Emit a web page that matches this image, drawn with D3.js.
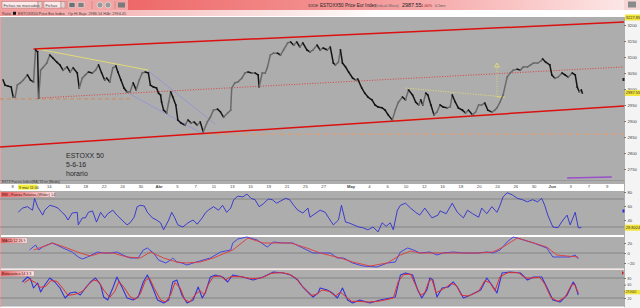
<!DOCTYPE html>
<html>
<head>
<meta charset="utf-8">
<script src="https://cdn.jsdelivr.net/npm/d3@7"></script>
<style>
  body { margin: 0; background: #fff; }
  text { font-family: "Liberation Sans", Arial, sans-serif; }
</style>
</head>
<body>
<script>
// hourly bars counted from the Mar 8 open, 9 bars per trading day
const barsPerDay = 9;

// [bar, close]
const price = [
  [-9,3028],[-7,3012],[-4,3009],[-1,3006],[1,2975],[3,2975],[5,3012],[8,3019],[11,3028],[15,3044],
  [18,3028],[21,3022],[23,3122],[25,3116],[26,2972],[28,3059],[30,3066],[34,3081],[37,3106],[40,3097],
  [44,3084],[47,3075],[50,3059],[54,3069],[57,3053],[60,3066],[64,3050],[66,3003],[69,3034],[72,3044],
  [75,3053],[79,3050],[82,3059],[85,3075],[88,3050],[91,3028],[93,3034],[96,3022],[99,3066],[102,3072],
  [104,3053],[107,3028],[110,3003],[113,2991],[116,2991],[119,3019],[122,2997],[125,3028],[128,3050],[131,3053],
  [134,3050],[136,3012],[139,3006],[142,3003],[144,2987],[146,2981],[147,2959],[149,2934],[152,2925],[154,2959],
  [156,2991],[158,2975],[161,2950],[163,2903],[166,2894],[170,2887],[173,2903],[176,2894],[179,2897],[182,2887],
  [185,2897],[188,2866],[192,2897],[195,2912],[198,2934],[202,2937],[205,2928],[208,2912],[212,2925],[215,2934],
  [216,3003],[219,3019],[222,3022],[226,3034],[229,3050],[232,3053],[236,3050],[239,3050],[242,3044],[243,3006],
  [246,3050],[249,3050],[251,3066],[254,3106],[257,3112],[261,3112],[264,3106],[267,3122],[271,3144],[274,3147],
  [277,3137],[280,3147],[283,3131],[286,3144],[290,3122],[293,3116],[296,3122],[300,3137],[303,3122],[306,3128],
  [310,3122],[313,3131],[316,3081],[318,3075],[321,3084],[323,3122],[325,3081],[328,3069],[331,3053],[335,3034],
  [338,3028],[340,3031],[344,3003],[347,2987],[350,2975],[354,2966],[357,2950],[360,2944],[364,2941],[367,2934],
  [370,2919],[374,2903],[377,2934],[380,2959],[384,2975],[387,2966],[390,2997],[394,2981],[397,2959],[400,2950],
  [402,2966],[404,2950],[407,2987],[409,2981],[412,2950],[415,2919],[418,2928],[421,2950],[424,2944],[428,2941],
  [431,2944],[433,2981],[436,2959],[439,2941],[443,2934],[446,2925],[449,2934],[453,2919],[456,2928],[459,2950],
  [462,2950],[465,2956],[468,2934],[472,2928],[475,2934],[477,2941],[480,2959],[483,2981],[487,3037],[490,3050],
  [493,3059],[497,3062],[500,3059],[503,3069],[507,3069],[510,3075],[513,3081],[517,3081],[520,3087],[522,3094],
  [525,3084],[529,3075],[531,3044],[534,3034],[537,3037],[541,3050],[544,3044],[547,3037],[551,3050],[554,3044],
  [556,3006],[558,2991],[560,2997],[561,2987.55]
];

// RSI (14)
const rsi = [
  [6,51],[10,57],[15,59],[20,54],[22,71],[25,59],[30,47],[32,54],[37,61],[42,59],[45,57],[49,51],[52,47],
  [55,40],[59,50],[64,51],[65,33],[69,43],[72,43],[75,51],[79,53],[83,37],[87,51],[91,43],[94,49],[99,54],
  [103,47],[108,40],[113,33],[116,36],[120,44],[123,59],[126,61],[130,60],[133,51],[138,43],[142,40],[146,36],
  [149,26],[154,40],[157,51],[160,43],[163,33],[168,30],[173,36],[178,40],[182,34],[187,43],[190,50],[193,54],
  [198,59],[203,54],[207,61],[211,51],[215,57],[218,69],[222,74],[227,73],[231,77],[235,71],[239,69],[243,59],
  [247,63],[252,70],[256,69],[260,64],[264,67],[269,71],[273,69],[277,61],[281,54],[286,50],[291,57],[293,44],
  [300,51],[303,54],[308,51],[311,44],[316,33],[321,40],[324,61],[328,37],[331,36],[336,33],[341,30],[345,29],
  [350,26],[355,30],[360,23],[364,36],[368,31],[372,36],[375,26],[379,54],[382,61],[387,64],[392,57],[397,51],
  [401,47],[406,57],[413,43],[419,47],[421,53],[427,49],[433,64],[438,51],[444,43],[448,54],[453,49],[459,44],
  [462,57],[467,49],[472,59],[477,51],[480,61],[483,73],[487,79],[492,76],[497,71],[502,69],[507,66],[512,69],
  [517,66],[521,71],[524,61],[527,47],[532,30],[537,29],[542,40],[546,47],[549,33],[554,51],[557,29],[560,29]
];

// MACD (12 26 9)
const macd = [
  [17,6],[23,16],[26,6],[30,12],[39,20],[44,16],[50,10],[59,2],[65,-8],[69,-12],[74,-8],[84,2],[90,0],[96,0],
  [103,2],[109,-4],[116,-10],[124,-10],[129,6],[133,10],[139,0],[144,-14],[151,-20],[156,-14],[158,-10],[162,-18],
  [167,-20],[172,-24],[178,-20],[188,-14],[195,-10],[205,2],[215,6],[217,20],[222,28],[231,32],[241,26],[251,12],
  [257,22],[267,20],[276,20],[286,10],[296,0],[303,0],[313,0],[320,-10],[326,-10],[335,-20],[345,-26],[359,-28],
  [369,-20],[377,-18],[382,2],[389,10],[395,6],[401,0],[411,2],[418,-4],[424,0],[434,2],[444,0],[458,0],[467,2],
  [473,0],[480,6],[487,22],[493,32],[500,28],[513,20],[526,10],[532,-8],[539,-8],[549,-8],[554,-4],[557,-12]
];
const macdSignal = [
  [21,6],[40,20],[54,10],[67,0],[77,-6],[87,0],[99,0],[113,-8],[126,-10],[136,2],[149,-10],[162,-18],[172,-20],
  [185,-18],[198,-10],[212,2],[217,6],[232,30],[247,20],[261,20],[274,20],[290,10],[303,0],[323,-10],[335,-18],
  [352,-26],[369,-20],[382,-4],[392,4],[401,0],[414,0],[434,0],[458,0],[473,2],[483,12],[497,30],[507,24],
  [526,12],[536,-4],[546,-6],[557,-8]
];

// Estocastico (14 3 3)
const stochK = [
  [10,68],[15,83],[18,77],[21,50],[25,65],[28,38],[32,59],[37,80],[42,68],[47,50],[52,20],[57,35],[62,38],[67,29],
  [72,50],[77,68],[82,80],[87,59],[90,23],[94,14],[99,50],[103,83],[108,53],[113,20],[119,14],[124,23],[129,68],
  [133,89],[138,53],[143,14],[149,5],[154,14],[158,68],[162,74],[167,29],[172,5],[178,14],[183,53],[187,20],
  [190,35],[195,83],[200,89],[207,83],[212,68],[217,89],[227,83],[237,74],[247,83],[257,98],[267,95],[274,89],
  [281,74],[286,53],[291,38],[296,23],[301,35],[303,50],[310,44],[315,35],[320,20],[325,50],[330,14],[335,5],
  [342,14],[352,5],[362,14],[372,20],[377,23],[382,89],[387,95],[394,89],[399,44],[403,20],[408,44],[411,80],
  [414,74],[418,23],[423,50],[429,53],[434,68],[438,53],[444,20],[451,29],[461,44],[467,80],[472,59],[477,35],
  [482,95],[490,98],[500,95],[507,74],[513,83],[521,83],[526,53],[532,14],[539,8],[546,29],[552,68],[554,59],[557,29]
];
const stochD = [
  [12,66],[17,76],[23,66],[28,52],[33,55],[38,72],[44,70],[50,48],[55,28],[60,30],[65,34],[70,42],[75,60],[80,74],
  [85,70],[90,44],[96,22],[101,40],[105,70],[110,52],[116,24],[121,16],[126,32],[131,72],[135,80],[140,48],[146,14],
  [151,8],[156,30],[160,66],[165,52],[170,14],[175,8],[180,30],[185,42],[189,30],[193,60],[198,84],[205,86],
  [210,74],[215,84],[225,84],[235,78],[245,80],[255,94],[265,96],[272,92],[279,80],[284,60],[289,44],[294,28],
  [299,30],[305,44],[312,40],[318,26],[323,38],[328,24],[334,10],[340,10],[350,8],[360,10],[370,16],[375,20],
  [380,70],[385,90],[392,92],[397,58],[402,28],[406,36],[410,70],[413,76],[417,36],[421,42],[427,52],[432,64],
  [437,58],[442,28],[449,26],[459,40],[465,72],[470,66],[475,42],[480,84],[488,96],[498,96],[505,80],[511,80],
  [519,82],[524,62],[530,22],[537,10],[544,22],[550,58],[553,62],[557,36]
];

// date axis: [trading day, label]  (Mar 10 sits under the cursor tag)
const dateTicks = [
  [0,'8'],[4,'14'],[6,'16'],[8,'18'],[10,'22'],[12,'24'],[14,'30'],[16,'Abr'],[18,'5'],[20,'7'],
  [22,'11'],[24,'13'],[26,'15'],[28,'19'],[30,'21'],[32,'25'],[34,'27'],[37,'May'],[39,'4'],[41,'6'],[43,'10'],
  [45,'12'],[47,'16'],[49,'18'],[51,'20'],[53,'24'],[55,'26'],[57,'30'],[59,'Jun'],[61,'3'],[63,'7'],[65,'9']
];
const monthLabels = ['Abr', 'May', 'Jun'];
const priceTicks = [3200, 3150, 3100, 3050, 3000, 2950, 2900, 2850, 2800, 2750];
const rsiTicks = [80, 60, 40];
const macdTicks = [20, 0, -20];
const stochTicks = [80, 60, 40, 20];

// drawn studies: [[bar, price], [bar, price]]
const channelTop = [[21,3125],[602,3209]];
const channelBottom = [[-12,2819],[602,2947]];
const channelMid = [[27,2972],[602,3069]];
const supportOld = [[-12,2969],[116,2969]];
const supportLow = [[165,2859],[602,2859]];
const trendMarch = [[25,3125],[134,3059]];
const downUpper = [[134,3056],[200,2890]];
const downLower = [[116,2984],[188,2859]];
const flagTop = [[387,3003],[485,2975]];
const flagBottom = [[375,2903],[477,2922]];
const flagTarget = [[477,2975],[477,3081]];
const futureLine = [[546,2722],[590,2725]];

const lastPrice = '2987.55';

const width = 640;
const height = 308;
const plotRight = 624;

const svg = d3.select('body').append('svg')
  .attr('width', width)
  .attr('height', height);

const defs = svg.append('defs');
function grad(id, stops) {
  const g = defs.append('linearGradient').attr('id', id).attr('x1', 0).attr('x2', 1).attr('y1', 0).attr('y2', 0);
  stops.forEach(([o, c]) => g.append('stop').attr('offset', o).attr('stop-color', c));
}
grad('tb', [[0, '#ee6868'], [0.5, '#f49a9a'], [1, '#fde6e6']]);
grad('row2', [[0, '#f29c9c'], [0.6, '#ffffff'], [1, '#ffffff']]);
grad('lbl', [[0, '#ec5a5a'], [1, '#ffeeee']]);

const x = d3.scaleLinear().domain([-12, 602]).range([0, plotRight]);
const yP = d3.scaleLinear().domain([2750, 3200]).range([169, 25]);
const yR = d3.scaleLinear().domain([30, 70]).range([227, 199]);
const yM = d3.scaleLinear().domain([-20, 20]).range([263, 243]);
const yS = d3.scaleLinear().domain([20, 80]).range([298, 278]);

// --- toolbar rows
svg.append('rect').attr('x', 0).attr('y', 0).attr('width', 128).attr('height', 10).attr('fill', '#f3a4a4');
svg.append('rect').attr('x', 128).attr('y', 0).attr('width', 496).attr('height', 10).attr('fill', 'url(#tb)');
svg.append('rect').attr('x', 624).attr('y', 0).attr('width', 16).attr('height', 10).attr('fill', '#f7d6d6');
svg.append('rect').attr('x', 0).attr('y', 10).attr('width', 640).attr('height', 6).attr('fill', 'url(#row2)');

[[2, 36, 'Fichas no marcados'], [44, 17, 'Fichas']].forEach(([bx, bw, t]) => {
  svg.append('rect').attr('x', bx).attr('y', 1.5).attr('width', bw).attr('height', 6.5)
    .attr('fill', '#fbeaea').attr('stroke', '#b07070').attr('stroke-width', 0.5);
  svg.append('rect').attr('x', bx + bw).attr('y', 1.5).attr('width', 4).attr('height', 6.5)
    .attr('fill', '#e4d4d4').attr('stroke', '#b07070').attr('stroke-width', 0.5);
  svg.append('text').attr('x', bx + 1.5).attr('y', 6.5).attr('font-size', 4).attr('fill', '#444').text(t);
});
[67, 92, 115].forEach(sx => svg.append('line').attr('x1', sx).attr('x2', sx).attr('y1', 1).attr('y2', 9)
  .attr('stroke', '#c58080').attr('stroke-width', 0.6));
[[72, '#707070'], [81, '#808080']].forEach(([ix, c]) => svg.append('rect').attr('x', ix - 3).attr('y', 2.5)
  .attr('width', 6).attr('height', 5).attr('fill', c).attr('stroke', '#eee').attr('stroke-width', 0.5));
[100, 108].forEach(ix => svg.append('circle').attr('cx', ix).attr('cy', 5).attr('r', 3)
  .attr('fill', '#9a9a9a').attr('stroke', '#eee').attr('stroke-width', 0.6));
svg.append('rect').attr('x', 118).attr('y', 2.5).attr('width', 7).attr('height', 5).attr('fill', '#7a7a7a');
svg.append('rect').attr('x', 628).attr('y', 1.5).attr('width', 8).attr('height', 6).attr('fill', '#8a8a8a');

svg.append('text').attr('x', 308).attr('y', 6.5).attr('font-size', 4).attr('fill', '#333').text('SX5E');
svg.append('text').attr('x', 320).attr('y', 6.5).attr('font-size', 4.6).attr('fill', '#222').text('ESTOXX50 Price Eur Index');
svg.append('text').attr('x', 375).attr('y', 6.5).attr('font-size', 3.6).attr('fill', '#666').text('(Indicial Morat)');
svg.append('text').attr('x', 402).attr('y', 6.8).attr('font-size', 5.4).attr('fill', '#222').text(lastPrice);
svg.append('text').attr('x', 420).attr('y', 6.5).attr('font-size', 3.8).attr('fill', '#a02020').text('-1.00%');
svg.append('text').attr('x', 435).attr('y', 6.5).attr('font-size', 3.8).attr('fill', '#555').text('0.5ms');

svg.append('text').attr('x', 2).attr('y', 14.5).attr('font-size', 3.8).attr('fill', '#444').text('Ratio');
svg.append('rect').attr('x', 13).attr('y', 11.8).attr('width', 3).attr('height', 3).attr('fill', '#111');
svg.append('text').attr('x', 18).attr('y', 14.5).attr('font-size', 3.8).attr('fill', '#333').text('ESTOXX50 Price Eur Index');
svg.append('text').attr('x', 68).attr('y', 14.5).attr('font-size', 3.8).attr('fill', '#444').text('Op Hi Bajo: 2986.54 H4b: 2994.45');

// --- panels
const panels = [[17, 184], [191, 235], [237, 268.5], [270, 306.5]];
panels.forEach(([t, b]) => svg.append('rect').attr('x', 0).attr('y', t).attr('width', plotRight)
  .attr('height', b - t).attr('fill', '#adadad'));
svg.append('rect').attr('x', plotRight).attr('y', 17).attr('width', 16).attr('height', 291).attr('fill', '#f4f4f4');
svg.append('line').attr('x1', plotRight + 0.5).attr('x2', plotRight + 0.5).attr('y1', 17).attr('y2', 307)
  .attr('stroke', '#9a9a9a').attr('stroke-width', 0.8);
svg.append('line').attr('x1', 0.5).attr('x2', 0.5).attr('y1', 17).attr('y2', 307)
  .attr('stroke', '#e8a0a0').attr('stroke-width', 1);
svg.append('line').attr('x1', 0).attr('x2', plotRight).attr('y1', 180.5).attr('y2', 180.5)
  .attr('stroke', '#8a8a8a').attr('stroke-width', 0.6);
svg.append('line').attr('x1', 0).attr('x2', plotRight).attr('y1', 269.3).attr('y2', 269.3)
  .attr('stroke', '#f0c8c8').attr('stroke-width', 0.6);

// guide levels in the studies
[[yR, 70], [yR, 30], [yM, 0], [yS, 80], [yS, 20]].forEach(([s, v]) => svg.append('line')
  .attr('x1', 0).attr('x2', plotRight).attr('y1', s(v)).attr('y2', s(v))
  .attr('stroke', '#7c7c7c').attr('stroke-width', 0.8));

// --- drawn studies on price
function seg(pts, stroke, w, dash) {
  svg.append('line')
    .attr('x1', x(pts[0][0])).attr('y1', yP(pts[0][1]))
    .attr('x2', x(pts[1][0])).attr('y2', yP(pts[1][1]))
    .attr('stroke', stroke).attr('stroke-width', w)
    .attr('stroke-dasharray', dash || null);
}
seg(supportOld, '#c98f68', 1.2, '4,3');
seg(supportLow, '#e79a66', 1, '5,4');
seg(channelMid, '#e03434', 0.9, '1,1.6');
seg(downUpper, '#8c8ce0', 0.7);
seg(downLower, '#8c8ce0', 0.7);
seg(trendMarch, '#e6e070', 0.9);
seg(flagTop, '#e8e070', 1, '1,1.5');
seg(flagBottom, '#f0a050', 1, '1,1.5');
seg(flagTarget, '#e8e070', 0.8, '1,1.5');
seg([[flagTarget[0][0], flagTarget[0][1]], [flagTop[1][0], flagTarget[0][1]]], '#e8e070', 0.8);
const tip = [x(flagTarget[1][0]), yP(flagTarget[1][1])];
svg.append('path')
  .attr('d', `M${tip[0] - 2.5},${tip[1] + 4}L${tip[0]},${tip[1]}L${tip[0] + 2.5},${tip[1] + 4}Z`)
  .attr('fill', 'none').attr('stroke', '#e8e070').attr('stroke-width', 0.8);
seg(channelTop, '#dd1010', 1.5);
seg(channelBottom, '#dd1010', 1.5);
seg(futureLine, '#9a50c8', 1.5);

// --- price bars (up grey, down black)
svg.append('g').selectAll('line').data(d3.pairs(price)).join('line')
  .attr('x1', d => x(d[0][0])).attr('y1', d => yP(d[0][1]))
  .attr('x2', d => x(d[1][0])).attr('y2', d => yP(d[1][1]))
  .attr('stroke', d => d[1][1] < d[0][1] ? '#141414' : '#6a6a6a')
  .attr('stroke-width', 1.5)
  .attr('stroke-linecap', 'square');

// --- study lines
function curve(data, s, stroke, w) {
  svg.append('path').datum(data)
    .attr('d', d3.line().x(d => x(d[0])).y(d => s(d[1])))
    .attr('fill', 'none').attr('stroke', stroke).attr('stroke-width', w).attr('stroke-linejoin', 'round');
}
curve(rsi, yR, '#2f2fd0', 0.9);
curve(macd, yM, '#3a3ae6', 0.9);
curve(macdSignal, yM, '#e03a3a', 0.9);
curve(stochK, yS, '#3434d8', 1.1);
curve(stochD, yS, '#e03030', 1);

// --- right axes
function rightAxis(s, ticks, size) {
  const g = svg.append('g').attr('transform', `translate(${plotRight},0)`)
    .call(d3.axisRight(s).tickValues(ticks).tickSize(2).tickPadding(1.5).tickFormat(d3.format('d')));
  g.select('.domain').remove();
  g.selectAll('line').attr('stroke', '#777');
  g.selectAll('text').attr('font-size', size || 4.2).attr('fill', '#444')
    .style('font-family', '"Liberation Sans", Arial, sans-serif');
}
rightAxis(yP, priceTicks);
rightAxis(yR, rsiTicks);
rightAxis(yM, macdTicks);
rightAxis(yS, stochTicks, 3.4);

function yellowTag(y, t, h) {
  h = h || 6;
  svg.append('rect').attr('x', plotRight + 1).attr('y', y - h / 2).attr('width', 15).attr('height', h).attr('fill', '#f2e63a');
  svg.append('text').attr('x', plotRight + 1.8).attr('y', y + h / 4).attr('font-size', h * 0.66).attr('fill', '#333').text(t);
}
yellowTag(17.5, '3227.85');
yellowTag(yP(+lastPrice), lastPrice);
yellowTag(yR(rsi[rsi.length - 1][1]), '28.8024');
yellowTag(yS(stochD[stochD.length - 1][1]) - 0.5, '29.3002', 4.4);

svg.append('rect').attr('x', plotRight - 1.5).attr('y', 78).attr('width', 2).attr('height', 3).attr('fill', '#222');
svg.append('rect').attr('x', plotRight - 1.5).attr('y', 209.5).attr('width', 2).attr('height', 3).attr('fill', '#2f2fd0');
svg.append('path').attr('d', `M${plotRight - 2},271L${plotRight},273L${plotRight - 2},275Z`).attr('fill', '#d02020');

// --- date axis strip
svg.append('rect').attr('x', 0).attr('y', 184).attr('width', plotRight).attr('height', 6.5).attr('fill', '#ffffff');
const xa = svg.append('g').attr('transform', 'translate(0,184)')
  .call(d3.axisBottom(x).tickValues(dateTicks.map(d => d[0] * barsPerDay)).tickSize(0).tickPadding(1)
    .tickFormat((d, i) => dateTicks[i][1]));
xa.select('.domain').remove();
xa.selectAll('text').attr('font-size', 4.2).attr('fill', '#444')
  .style('font-family', '"Liberation Sans", Arial, sans-serif')
  .attr('font-weight', (d, i) => monthLabels.includes(dateTicks[i][1]) ? 'bold' : null);
svg.append('rect').attr('x', 18).attr('y', 184.6).attr('width', 19.5).attr('height', 5).attr('fill', '#f2ee3a');
svg.append('text').attr('x', 19).attr('y', 188.5).attr('font-size', 3.8).attr('fill', '#333').text('9 mar 11:00');

// --- labels
svg.append('text').attr('x', 2).attr('y', 183.3).attr('font-size', 3.3).attr('fill', '#333')
  .text('ESTX Fuerza Indice(MA) 33 en (Media)');
[[192, 54, 'RSI - Fuerza Relativa (Wilder) 14'], [238, 26, 'MACD 12 26 9'], [271, 33, 'Estocastico 14 3 3']]
  .forEach(([ly, lw, t]) => {
    svg.append('rect').attr('x', 1).attr('y', ly).attr('width', lw).attr('height', 5)
      .attr('fill', 'url(#lbl)').attr('stroke', '#d08080').attr('stroke-width', 0.4);
    svg.append('text').attr('x', 2).attr('y', ly + 3.8).attr('font-size', 3.6).attr('fill', '#3a1010').text(t);
  });

const note = svg.append('g').attr('font-size', 7).attr('fill', '#2a2a2a')
  .style('font-family', '"Open Sans", "Liberation Sans", sans-serif');
[['ESTOXX 50', 158], ['5-6-16', 167], ['horario', 175.5]].forEach(([t, ny]) =>
  note.append('text').attr('x', 66).attr('y', ny).text(t));
</script>
</body>
</html>
